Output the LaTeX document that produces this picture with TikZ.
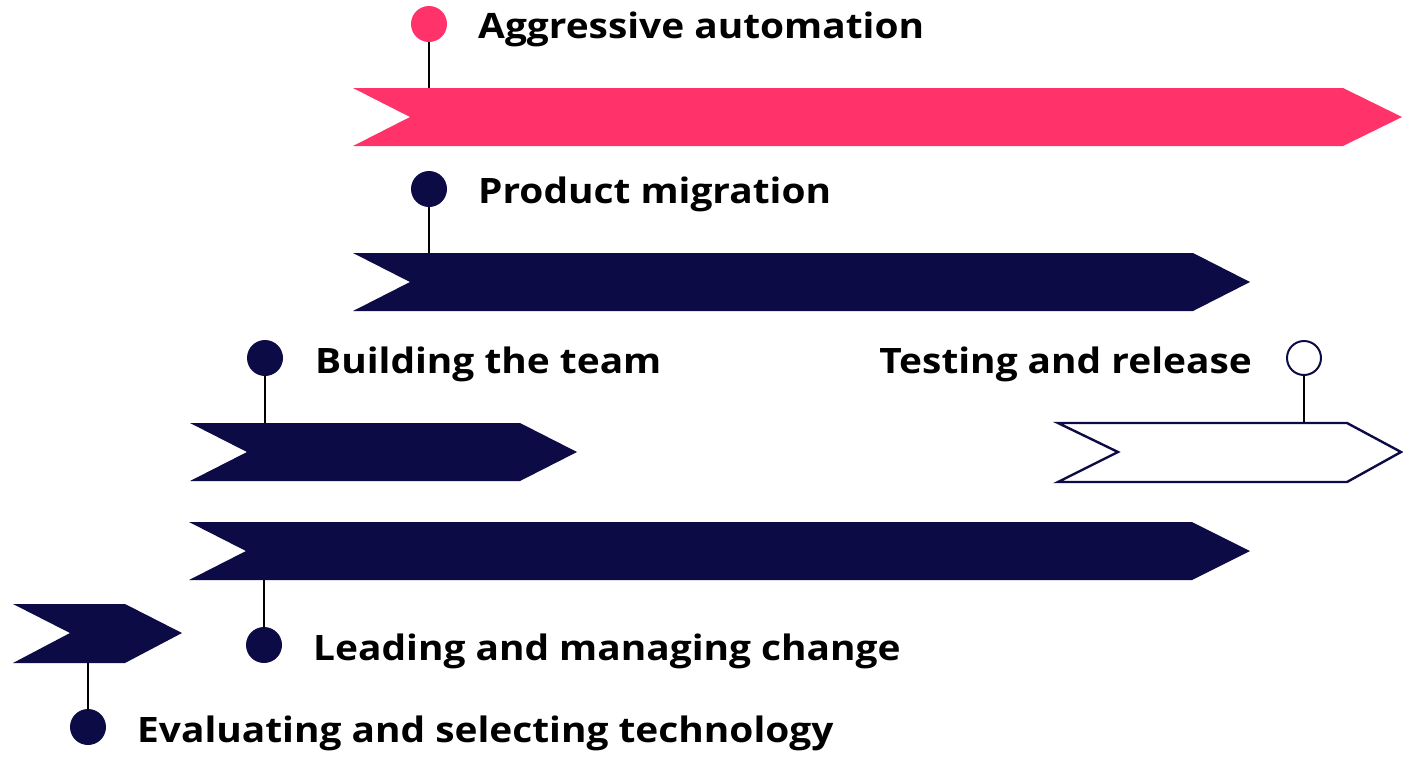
\documentclass[tikz,border=0pt]{standalone}
\usepackage{fontspec}
\setmainfont{Open Sans}[FakeStretch=1.11]
\definecolor{pinkc}{HTML}{FF336A}
\definecolor{navyc}{HTML}{0D0B45}
\tikzset{
  x=1pt, y=-1pt,
  barfill/.style={fill=#1, draw=none},
  baropen/.style={fill=white, draw=navyc, line width=2.4pt, line join=miter},
  pinball/.style={circle, fill=#1, draw=none, minimum size=36pt, inner sep=0pt},
  pinopen/.style={circle, fill=white, draw=navyc, line width=2pt, minimum size=34pt, inner sep=0pt},
  pinline/.style={draw=black, line width=2.6pt},
  lbl/.style={font=\fontsize{35}{40}\selectfont\bfseries, text=black, inner sep=0pt},
}
\begin{document}
\begin{tikzpicture}
\useasboundingbox (0,0) rectangle (1403,756);
% bar 1 pink
\path[barfill=pinkc] (353,88) -- (1343,88) -- (1402,117) -- (1343,146) -- (353,146) -- (410,117) -- cycle;
\coordinate (b1) at (429,88);
\node[pinball=pinkc] (p1) at (429,24) {};
\draw[pinline] (p1.south) -- (b1);
\node[lbl, anchor=base west] (t1) at (478,38) {Aggressive automation};
% bar 2
\path[barfill=navyc] (353,253) -- (1193,253) -- (1250,282) -- (1193,311) -- (353,311) -- (410,282) -- cycle;
\coordinate (b2) at (429,253);
\node[pinball=navyc] (p2) at (429,189) {};
\draw[pinline] (p2.south) -- (b2);
\node[lbl, anchor=base west] (t2) at (478,203) {Product migration};
% bar 3
\path[barfill=navyc] (190,423) -- (520,423) -- (577,452) -- (520,481) -- (190,481) -- (247,452) -- cycle;
\coordinate (b3) at (265,423);
\node[pinball=navyc] (p3) at (265,358) {};
\draw[pinline] (p3.south) -- (b3);
\node[lbl, anchor=base west] (t3) at (315,373) {Building the team};
% testing
\path[baropen] (1058,423) -- (1347,423) -- (1401,452) -- (1347,482) -- (1058,482) -- (1118,452) -- cycle;
\coordinate (b6) at (1304,423);
\node[pinopen] (p6) at (1304,358) {};
\draw[pinline] (p6.south) -- (b6);
\node[lbl, anchor=base east] (t6) at (1252,373) {Testing and release};
% bar 4
\path[barfill=navyc] (189,522) -- (1192,522) -- (1250,551) -- (1192,580) -- (189,580) -- (246,551) -- cycle;
\coordinate (b4) at (264,580);
\node[pinball=navyc] (p4) at (264,645) {};
\draw[pinline] (b4) -- (p4.north);
\node[lbl, anchor=base west] (t4) at (313,660) {Leading and managing change};
% bar 5
\path[barfill=navyc] (13,604) -- (125,604) -- (182,633) -- (125,663) -- (13,663) -- (70,633) -- cycle;
\coordinate (b5) at (88,663);
\node[pinball=navyc] (p5) at (88,727) {};
\draw[pinline] (b5) -- (p5.north);
\node[lbl, anchor=base west] (t5) at (137,742) {Evaluating and selecting technology};
\end{tikzpicture}
\end{document}
